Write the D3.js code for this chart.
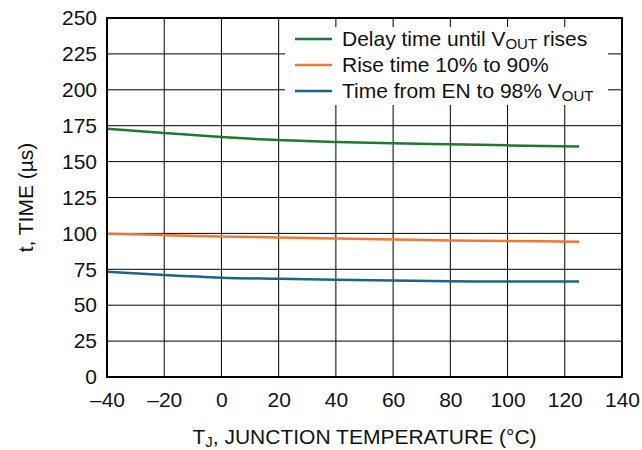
<!DOCTYPE html>
<html>
<head>
<meta charset="utf-8">
<script src="https://cdn.jsdelivr.net/npm/d3@7"></script>
<style>
  body { margin: 0; background: #fff; }
  svg text { font-family: 'Liberation Sans', Arial, sans-serif; fill: #111; }
</style>
</head>
<body>
<div id="chart"></div>
<script>
const temps = [-40, -20, 0, 20, 40, 60, 80, 100, 125]
const delayTime = [172.9, 169.9, 167.1, 165, 163.7, 162.7, 162, 161.3, 160.6]
const riseTime = [99.8, 98.8, 97.9, 97.2, 96.5, 95.8, 95.1, 94.7, 94.2]
const enTime = [73.3, 71, 69.2, 68.4, 67.7, 67.2, 66.7, 66.5, 66.5]
const xTicks = [-40, -20, 0, 20, 40, 60, 80, 100, 120, 140]
const yTicks = [0, 25, 50, 75, 100, 125, 150, 175, 200, 225, 250]

const series = [
  { name: ['Delay time until V', 'OUT', ' rises'], values: delayTime, color: '#1f7a30' },
  { name: ['Rise time 10% to 90%'], values: riseTime, color: '#ee7838' },
  { name: ['Time from EN to 98% V', 'OUT'], values: enTime, color: '#1b6585' }
]

const chartWidth = 642
const chartHeight = 450
const margin = { top: 18, bottom: 73, left: 107, right: 20 }
const width = chartWidth - margin.left - margin.right
const height = chartHeight - margin.top - margin.bottom
const fontSize = 21
const subSize = 15

const svg = d3
  .select('#chart')
  .append('svg')
  .attr('width', chartWidth)
  .attr('height', chartHeight)

const g = svg.append('g').attr('transform', `translate(${margin.left}, ${margin.top})`)

const x = d3.scaleLinear().domain([-40, 140]).range([0, width])
const y = d3.scaleLinear().domain([0, 250]).range([height, 0])

const fmt = (v) => (v < 0 ? '\u2013' + Math.abs(v) : String(v))

// grid
g.append('g')
  .selectAll('line')
  .data(xTicks)
  .enter()
  .append('line')
  .attr('x1', (d) => x(d))
  .attr('x2', (d) => x(d))
  .attr('y1', 0)
  .attr('y2', height)
  .attr('stroke', '#000')
  .attr('stroke-width', 1)
g.append('g')
  .selectAll('line')
  .data(yTicks)
  .enter()
  .append('line')
  .attr('x1', 0)
  .attr('x2', width)
  .attr('y1', (d) => y(d))
  .attr('y2', (d) => y(d))
  .attr('stroke', '#000')
  .attr('stroke-width', 1)

// tick labels
const xAxis = g
  .append('g')
  .attr('transform', 'translate(0,' + height + ')')
  .call(d3.axisBottom(x).tickValues(xTicks).tickFormat(fmt).tickSize(0).tickPadding(15))
xAxis.select('.domain').remove()
xAxis.selectAll('text').attr('font-size', fontSize).attr('fill', '#111')

const yAxis = g
  .append('g')
  .call(d3.axisLeft(y).tickValues(yTicks).tickSize(0).tickPadding(10))
yAxis.select('.domain').remove()
yAxis.selectAll('text').attr('font-size', fontSize).attr('fill', '#111')

// curves
const line = d3
  .line()
  .x((d, i) => x(temps[i]))
  .y((d) => y(d))
  .curve(d3.curveMonotoneX)

g.append('g')
  .selectAll('path')
  .data(series)
  .enter()
  .append('path')
  .attr('d', (d) => line(d.values))
  .attr('fill', 'none')
  .attr('stroke', (d) => d.color)
  .attr('stroke-width', 2.5)

// frame
g.append('rect')
  .attr('width', width)
  .attr('height', height)
  .attr('fill', 'none')
  .attr('stroke', '#000')
  .attr('stroke-width', 2)

// legend
const legend = svg.append('g')
legend
  .append('rect')
  .attr('x', 285)
  .attr('y', 27)
  .attr('width', 323)
  .attr('height', 78)
  .attr('fill', '#fff')

series.forEach((s, i) => {
  const cy = 39 + i * 26
  legend
    .append('line')
    .attr('x1', 295)
    .attr('x2', 332)
    .attr('y1', cy)
    .attr('y2', cy)
    .attr('stroke', s.color)
    .attr('stroke-width', 2.5)
  const t = legend
    .append('text')
    .attr('x', 342)
    .attr('y', cy + 7)
    .attr('font-size', fontSize)
  s.name.forEach((part, j) => {
    const sp = t.append('tspan').text(part)
    if (j === 1) sp.attr('font-size', subSize).attr('dy', 3)
    if (j === 2) sp.attr('dy', -3)
  })
})

// axis titles
const xt = svg
  .append('text')
  .attr('x', margin.left + width / 2)
  .attr('y', 444)
  .attr('text-anchor', 'middle')
  .attr('font-size', fontSize)
xt.append('tspan').text('T')
xt.append('tspan').text('J').attr('font-size', subSize).attr('dy', 3)
xt.append('tspan').text(', JUNCTION TEMPERATURE (\u00B0C)').attr('dy', -3)

svg
  .append('text')
  .attr('transform', `translate(33, ${margin.top + height / 2}) rotate(-90)`)
  .attr('text-anchor', 'middle')
  .attr('font-size', fontSize)
  .text('t, TIME (\u00B5s)')
</script>
</body>
</html>
